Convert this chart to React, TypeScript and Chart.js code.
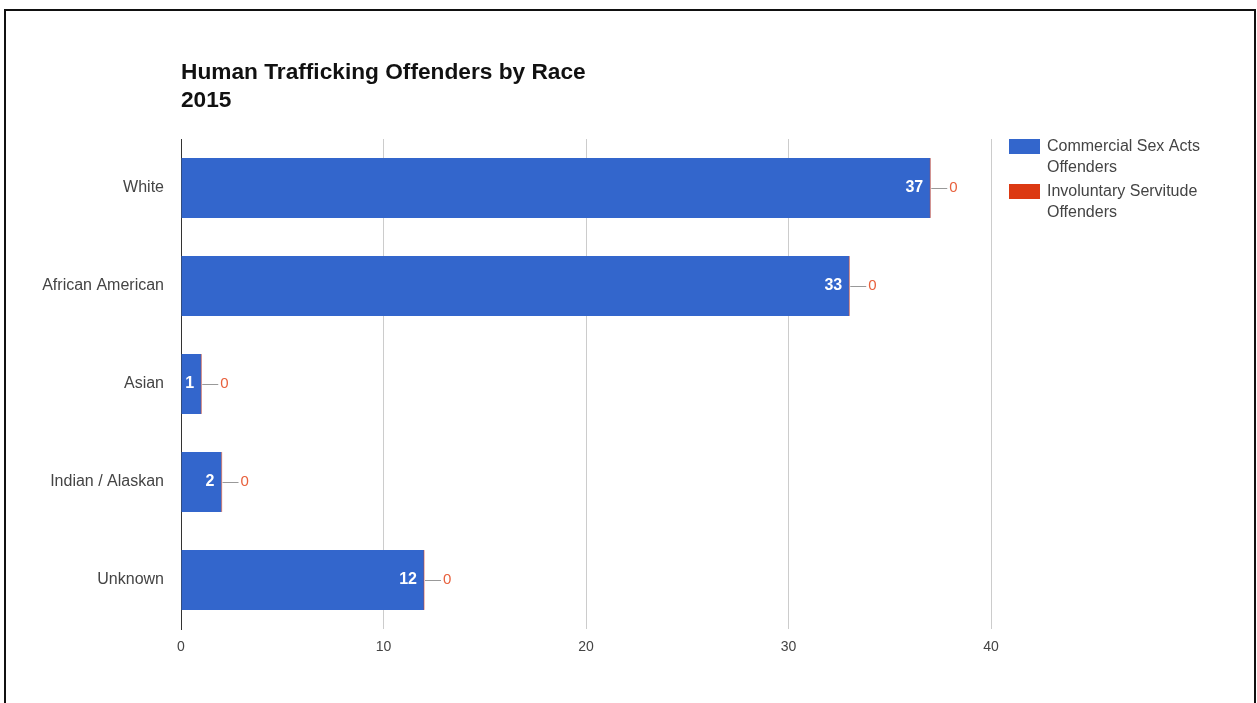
import React, { useEffect, useRef } from "react";
import { Chart, registerables } from "chart.js";

Chart.register(...registerables);

const categories = ["White", "African American", "Asian", "Indian / Alaskan", "Unknown"];
const commercialSex = [37, 33, 1, 2, 12];
const involuntaryServitude = [0, 0, 0, 0, 0];
const seriesNames = ["Commercial Sex Acts Offenders", "Involuntary Servitude Offenders"];
const legendLines = [["Commercial Sex Acts", "Offenders"], ["Involuntary Servitude", "Offenders"]];
const titleLines = ["Human Trafficking Offenders by Race", "2015"];
const xMax = 40;
const xStep = 10;

const BLUE = "#3366CC";
const RED = "#DC3912";
const FONT = "Arial, 'Liberation Sans', sans-serif";

export default function App() {
  const ref = useRef<HTMLCanvasElement | null>(null);

  useEffect(() => {
    document.body.style.margin = "0";
    const canvas = ref.current;
    if (!canvas) return;

    const overlay = {
      id: "overlay",
      afterDatasetsDraw(chart: any) {
        const ctx = chart.ctx;
        const area = chart.chartArea;
        const m0 = chart.getDatasetMeta(0);
        const m1 = chart.getDatasetMeta(1);
        ctx.save();
        m0.data.forEach((bar: any, i: number) => {
          const h = bar.height;
          const endX = m1.data[i].x;
          ctx.fillStyle = "rgba(220,57,18,0.45)";
          ctx.fillRect(endX - 0.5, bar.y - h / 2, 1.2, h);
          ctx.font = `bold 16px ${FONT}`;
          ctx.fillStyle = "#ffffff";
          ctx.textAlign = "right";
          ctx.textBaseline = "middle";
          ctx.fillText(String(commercialSex[i]), bar.x - 7, bar.y);
          ctx.strokeStyle = "#999";
          ctx.lineWidth = 1;
          ctx.beginPath();
          ctx.moveTo(endX + 1, Math.round(bar.y) + 0.5);
          ctx.lineTo(endX + 17, Math.round(bar.y) + 0.5);
          ctx.stroke();
          ctx.font = `15px ${FONT}`;
          ctx.fillStyle = "#E8603C";
          ctx.textAlign = "left";
          ctx.fillText(String(involuntaryServitude[i]), endX + 19, bar.y);
        });
        ctx.fillStyle = "#111";
        ctx.font = `bold 22.7px ${FONT}`;
        ctx.textAlign = "left";
        ctx.textBaseline = "middle";
        titleLines.forEach((t, k) => ctx.fillText(t, area.left, 73 + k * 28));
        const lx = area.right + 18;
        const colors = [BLUE, RED];
        legendLines.forEach((lines, k) => {
          const top = area.top + k * 45;
          ctx.fillStyle = colors[k];
          ctx.fillRect(lx, top, 31, 15);
          ctx.fillStyle = "#444";
          ctx.font = `16px ${FONT}`;
          lines.forEach((ln, j) => ctx.fillText(ln, lx + 38, top + 8 + j * 21));
        });
        ctx.restore();
      },
    };

    const chart = new Chart(canvas, {
      type: "bar",
      data: {
        labels: categories,
        datasets: [
          { label: seriesNames[0], data: commercialSex, backgroundColor: BLUE, categoryPercentage: 1, barPercentage: 0.61 },
          { label: seriesNames[1], data: involuntaryServitude, backgroundColor: RED, categoryPercentage: 1, barPercentage: 0.61 },
        ],
      },
      options: {
        indexAxis: "y",
        animation: false,
        responsive: false,
        layout: { padding: { left: 0, top: 139, right: 266, bottom: 0 } },
        plugins: { legend: { display: false }, title: { display: false }, tooltip: { enabled: false } },
        scales: {
          x: {
            stacked: true,
            min: 0,
            max: xMax,
            afterFit: (s: any) => { s.height = 74; },
            ticks: { stepSize: xStep, color: "#444", font: { family: FONT, size: 14 }, padding: 10 },
            grid: { color: "#cccccc", drawTicks: false },
            border: { display: false },
          },
          y: {
            stacked: true,
            afterFit: (s: any) => { s.width = 181; },
            ticks: { color: "#444", font: { family: FONT, size: 16 }, padding: 17 },
            grid: { display: false, drawTicks: false },
            border: { display: true, color: "#333", width: 1 },
          },
        },
      },
      plugins: [overlay],
    });
    return () => chart.destroy();
  }, []);

  return (
    <div style={{ position: "relative", width: 1257, height: 703, overflow: "hidden", background: "#fff" }}>
      <canvas ref={ref} width={1257} height={703} style={{ position: "absolute", left: 0, top: 0 }} />
      <div
        style={{
          position: "absolute",
          left: 4,
          top: 9,
          width: 1248,
          height: 760,
          border: "2px solid #111",
          pointerEvents: "none",
        }}
      />
    </div>
  );
}
